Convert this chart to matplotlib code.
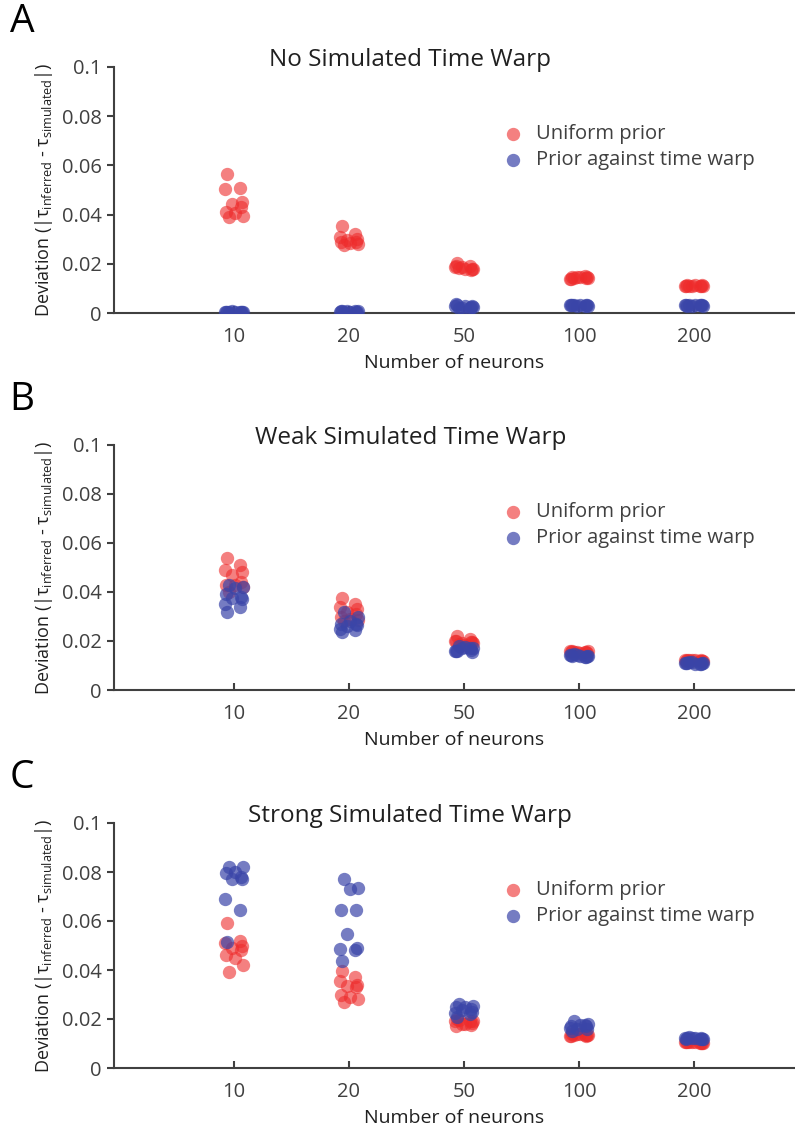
import matplotlib
matplotlib.use("Agg")
import matplotlib.pyplot as plt
import numpy as np

plt.rcParams['font.family'] = ['Open Sans', 'DejaVu Sans']
plt.rcParams['mathtext.fontset'] = 'custom'
plt.rcParams['mathtext.rm'] = 'Open Sans'
plt.rcParams['mathtext.it'] = 'Open Sans'

# data
neurons = ['10', '20', '50', '100', '200']
yticks = [0, 0.02, 0.04, 0.06, 0.08, 0.1]
ytick_labels = ['0', '0.02', '0.04', '0.06', '0.08', '0.1']
titles = ['No Simulated Time Warp', 'Weak Simulated Time Warp', 'Strong Simulated Time Warp']
letters = ['A', 'B', 'C']

a_uniform = [
    [0.0565, 0.051, 0.0505, 0.045, 0.0445, 0.043, 0.041, 0.0405, 0.0395, 0.039],
    [0.0355, 0.032, 0.031, 0.030, 0.0295, 0.029, 0.029, 0.0285, 0.028, 0.0275],
    [0.0205, 0.019, 0.0185, 0.018, 0.0185, 0.0175, 0.019, 0.018, 0.0178, 0.0182],
    [0.0145, 0.015, 0.014, 0.0145, 0.0148, 0.0142, 0.014, 0.0146, 0.0144, 0.0143],
    [0.0112, 0.011, 0.0108, 0.0113, 0.0111, 0.0109, 0.011, 0.0112, 0.0108, 0.0111],
]
a_against = [
    [0.0005, 0.0004, 0.0006, 0.0005, 0.0003, 0.0007, 0.0005, 0.0004, 0.0006, 0.0005],
    [0.0006, 0.0008, 0.0005, 0.0007, 0.0004, 0.0009, 0.0006, 0.0005, 0.0008, 0.0007],
    [0.002, 0.0025, 0.003, 0.0035, 0.0025, 0.002, 0.003, 0.0028, 0.0022, 0.0032],
    [0.0032, 0.003, 0.0034, 0.0031, 0.0033, 0.0029, 0.0032, 0.0034, 0.003, 0.0031],
    [0.0032, 0.003, 0.0033, 0.0031, 0.0032, 0.003, 0.0033, 0.0031, 0.0032, 0.003],
]
b_uniform = [
    [0.054, 0.051, 0.049, 0.048, 0.047, 0.044, 0.043, 0.043, 0.042, 0.040],
    [0.0375, 0.035, 0.034, 0.033, 0.032, 0.031, 0.030, 0.029, 0.0285, 0.028],
    [0.022, 0.021, 0.020, 0.0195, 0.019, 0.0195, 0.020, 0.0185, 0.019, 0.0188],
    [0.0158, 0.0155, 0.016, 0.0152, 0.0157, 0.0154, 0.0156, 0.0153, 0.0159, 0.0155],
    [0.0122, 0.012, 0.0124, 0.0119, 0.0121, 0.0123, 0.012, 0.0122, 0.0118, 0.0121],
]
b_against = [
    [0.043, 0.042, 0.0415, 0.039, 0.038, 0.0375, 0.037, 0.035, 0.034, 0.032],
    [0.032, 0.030, 0.028, 0.027, 0.027, 0.026, 0.0265, 0.025, 0.0245, 0.0235],
    [0.018, 0.017, 0.0175, 0.016, 0.0165, 0.017, 0.0155, 0.016, 0.017, 0.0158],
    [0.0145, 0.014, 0.0138, 0.0142, 0.0135, 0.0143, 0.0139, 0.0141, 0.0136, 0.014],
    [0.0115, 0.011, 0.0108, 0.0112, 0.0106, 0.0113, 0.0109, 0.0111, 0.0107, 0.011],
]
c_uniform = [
    [0.059, 0.052, 0.051, 0.050, 0.049, 0.048, 0.046, 0.045, 0.042, 0.039],
    [0.0395, 0.037, 0.0355, 0.034, 0.0335, 0.033, 0.030, 0.029, 0.028, 0.027],
    [0.020, 0.019, 0.019, 0.0185, 0.018, 0.0175, 0.017, 0.018, 0.019, 0.0195],
    [0.014, 0.0135, 0.013, 0.0135, 0.014, 0.013, 0.0132, 0.0138, 0.0133, 0.0136],
    [0.0105, 0.0102, 0.0108, 0.0104, 0.0106, 0.0103, 0.0107, 0.0105, 0.0102, 0.0106],
]
c_against = [
    [0.082, 0.082, 0.080, 0.0795, 0.078, 0.077, 0.077, 0.069, 0.0645, 0.0515],
    [0.077, 0.0735, 0.073, 0.0645, 0.0645, 0.0545, 0.049, 0.0485, 0.048, 0.0435],
    [0.026, 0.0255, 0.025, 0.025, 0.024, 0.0235, 0.023, 0.0225, 0.022, 0.021],
    [0.019, 0.018, 0.0175, 0.017, 0.017, 0.016, 0.016, 0.0165, 0.0175, 0.015],
    [0.0125, 0.012, 0.0122, 0.0118, 0.0124, 0.0121, 0.0119, 0.0123, 0.012, 0.0122],
]

panels = [(a_uniform, a_against), (b_uniform, b_against), (c_uniform, c_against)]

# fixed horizontal spread of the dots around each category
spread = [-0.06, 0.05, -0.08, 0.07, -0.02, 0.06, -0.07, 0.01, 0.08, -0.04]

red = '#ee2b2b'
blue = '#3a45a8'
grey = '#404040'

fig = plt.figure(figsize=(7.95, 11.38), dpi=100)
W, H = 795, 1138
tops = [67, 445, 823]
bottoms = [313, 690, 1068]
left_px = 114

for i in range(3):
    ax = fig.add_axes([left_px / W, 1 - bottoms[i] / H, (W - left_px) / W,
                       (bottoms[i] - tops[i]) / H])
    uni, ag = panels[i]
    pos = np.arange(1, len(neurons) + 1)
    for j in range(len(neurons)):
        xs = pos[j] + np.array(spread)
        ax.scatter(xs, uni[j], s=92, color=red, alpha=0.6, linewidths=0,
                   label='Uniform prior' if j == 0 else None, zorder=3)
    for j in range(len(neurons)):
        xs = pos[j] + np.array(spread[::-1])
        ax.scatter(xs, ag[j], s=92, color=blue, alpha=0.7, linewidths=0,
                   label='Prior against time warp' if j == 0 else None, zorder=4)

    ax.set_xlim(1 - 120 / 115, 1 + (W - 234) / 115)
    ax.set_ylim(0, 0.1)
    ax.set_xticks(pos)
    ax.set_xticklabels(neurons)
    ax.set_yticks(yticks)
    ax.set_yticklabels(ytick_labels)
    for side in ['top', 'right']:
        ax.spines[side].set_visible(False)
    for side in ['left', 'bottom']:
        ax.spines[side].set_color(grey)
        ax.spines[side].set_linewidth(1.5)
    ax.tick_params(axis='x', direction='in', length=5, width=1.5, colors=grey,
                   labelsize=14.5, pad=10)
    ax.tick_params(axis='y', direction='out', length=5, width=1.5, colors=grey,
                   labelsize=14.5, pad=4)
    ax.set_xlabel('Number of neurons', fontsize=14, color='#202020', labelpad=5)
    ax.set_ylabel(r'Deviation (|$\tau_{\mathrm{inferred}}$ - $\tau_{\mathrm{simulated}}$|)',
                  fontsize=13, color='#202020', labelpad=5)
    ax.text(0.435, 1.03, titles[i], transform=ax.transAxes, ha='center', va='center',
            fontsize=17.5, color='#202020')
    leg = ax.legend(loc='upper left', bbox_to_anchor=(0.545, 0.8), frameon=False,
                    fontsize=14.5, handletextpad=0.15, labelspacing=0.3,
                    borderaxespad=0, scatterpoints=1, markerscale=1.0)
    for t in leg.get_texts():
        t.set_color(grey)
    fig.text(0.012, 1 - (tops[i] - 45) / H, letters[i], fontsize=28, ha='left',
             va='center', color='black')

fig.savefig('out.png', dpi=100)
